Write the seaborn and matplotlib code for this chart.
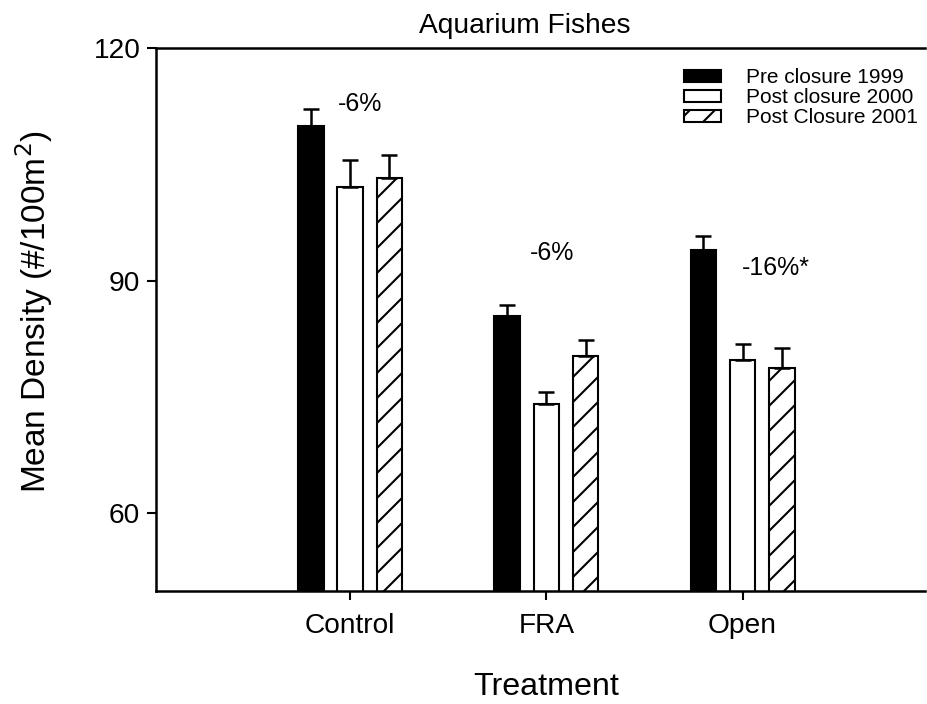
import matplotlib
matplotlib.use("Agg")
import matplotlib.pyplot as plt
import seaborn as sns
import pandas as pd

# data
treatments = ["Control", "FRA", "Open"]
periods = ["Pre closure 1999", "Post closure 2000", "Post Closure 2001"]
pre_1999 = [109.9, 85.5, 94.0]
post_2000 = [102.1, 74.1, 79.8]
post_2001 = [103.2, 80.3, 78.7]
err_1999 = [2.3, 1.4, 1.8]
err_2000 = [3.4, 1.5, 2.0]
err_2001 = [3.0, 2.0, 2.6]
change_labels = ["-6%", "-6%", "-16%*"]
change_x = [0.05, 1.03, 2.17]
change_y = [112.8, 93.6, 91.6]

rows = []
for per, vals in zip(periods, [pre_1999, post_2000, post_2001]):
    for t, v in zip(treatments, vals):
        rows.append({"Treatment": t, "Period": per, "Density": v})
df = pd.DataFrame(rows)

sns.set_style("ticks", {"text.color": "black", "axes.labelcolor": "black",
                        "axes.edgecolor": "black", "xtick.color": "black",
                        "ytick.color": "black"})
plt.rcParams["font.family"] = ["Liberation Sans", "DejaVu Sans"]
plt.rcParams["hatch.linewidth"] = 1.0

fig = plt.figure(figsize=(927 / 150, 704 / 150), dpi=150)
ax = fig.add_axes([156 / 927, 113 / 704, 769 / 927, 543 / 704])

sns.barplot(
    data=df, x="Treatment", y="Density", hue="Period",
    order=treatments, hue_order=periods,
    palette=["black", "white", "white"], saturation=1,
    edgecolor="black", linewidth=1.0,
    width=0.6, gap=0.35, errorbar=None, ax=ax,
)

for bar in ax.containers[2]:
    bar.set_hatch("//")

# one-sided error bars on top of each bar
for cont, errs in zip(ax.containers, [err_1999, err_2000, err_2001]):
    xs = [p.get_x() + p.get_width() / 2 for p in cont]
    ys = [p.get_height() for p in cont]
    ax.errorbar(xs, ys, yerr=[[0] * len(errs), errs], fmt="none",
                ecolor="black", elinewidth=1.2, capsize=4, capthick=1.2,
                zorder=1)

for lab, x, y in zip(change_labels, change_x, change_y):
    ax.text(x, y, lab, ha="center", va="center", fontsize=12, color="black")

ax.set_ylim(50, 120)
ax.set_yticks([60, 90, 120])
ax.set_xlim(-0.99, 2.93)

ax.spines["right"].set_visible(False)
ax.spines["top"].set_visible(True)
for s in ["left", "bottom", "top"]:
    ax.spines[s].set_linewidth(1.2)
ax.tick_params(axis="both", direction="out", length=4.5, width=1.0,
               labelsize=13.5)
ax.tick_params(axis="y", pad=3)
ax.tick_params(axis="x", pad=6)

ax.set_title("Aquarium Fishes", fontsize=13.5, pad=7, x=0.479)
ax.set_ylabel("Mean Density (#/100m$^2$)", fontsize=16)
ax.set_xlabel("Treatment", fontsize=15.5)
ax.yaxis.set_label_coords(-0.131, 0.514)
ax.xaxis.set_label_coords(0.507, -0.149)

ax.legend(ax.containers, periods, loc="upper left",
          bbox_to_anchor=(0.687, 0.963), frameon=False, fontsize=10,
          handlelength=1.75, handleheight=0.5, handletextpad=1.2,
          labelspacing=0.05, borderpad=0, borderaxespad=0)

fig.savefig("out.png", dpi=150)
